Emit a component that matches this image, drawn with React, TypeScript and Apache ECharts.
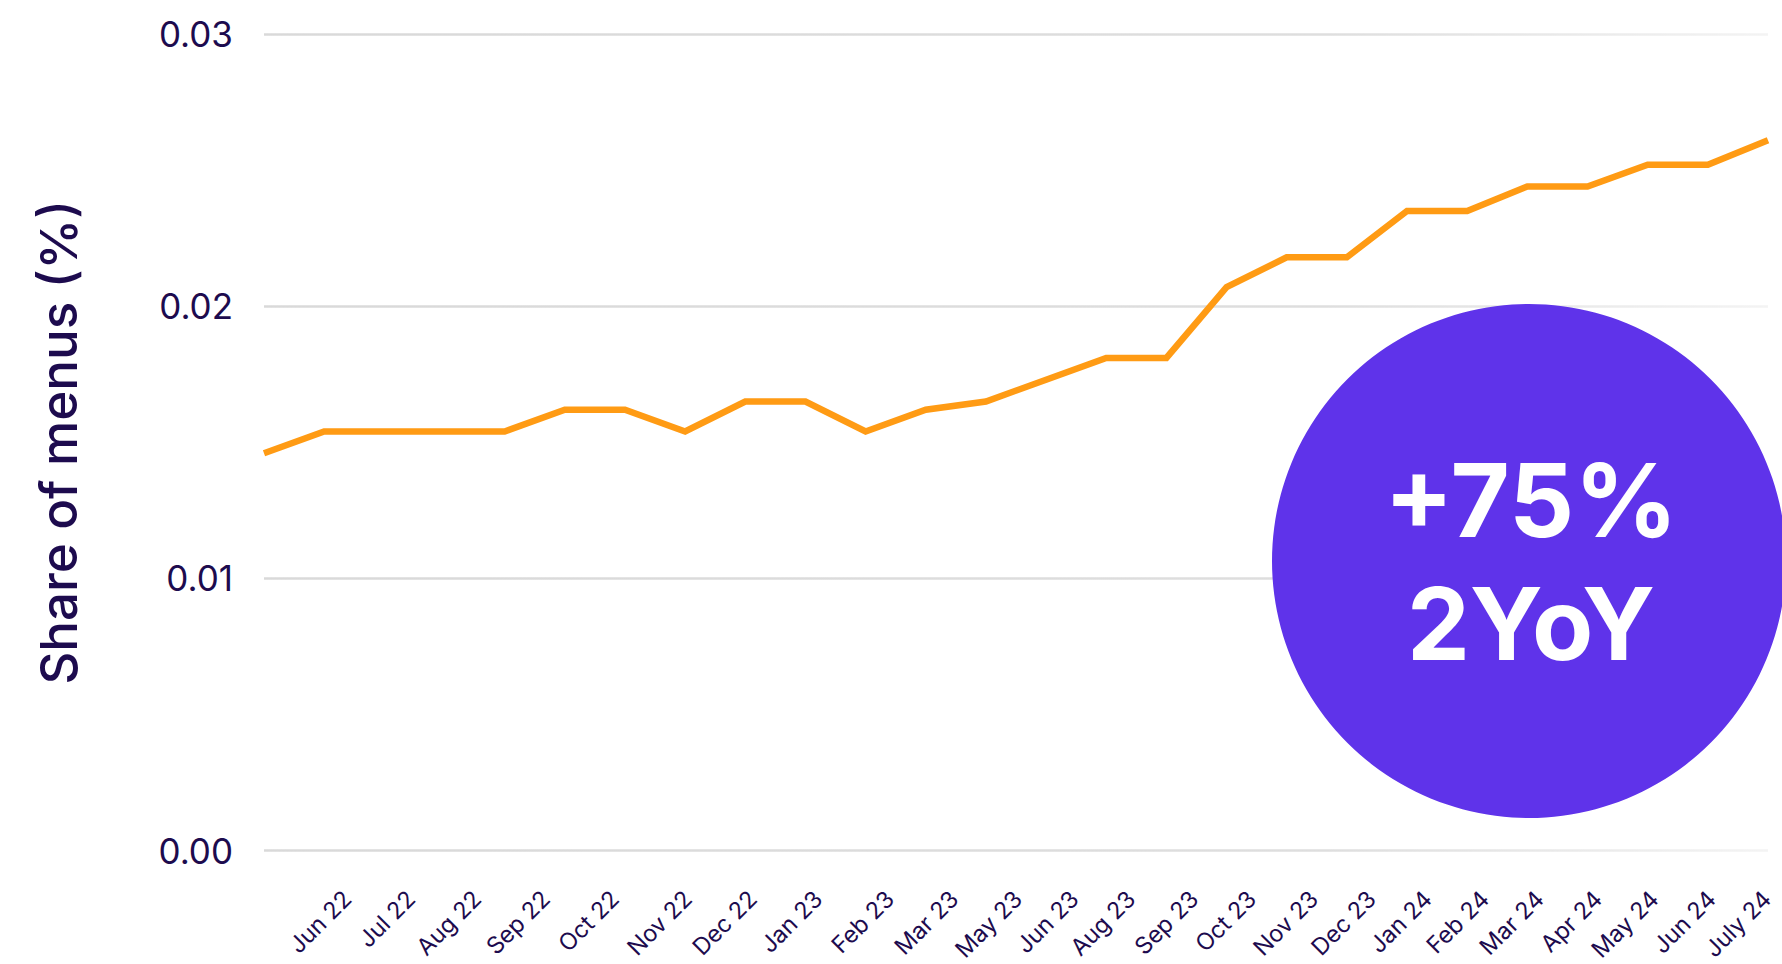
import React, { useEffect, useRef } from "react";
import * as echarts from "echarts";

// Share of menus (%) — monthly points, May 22 .. July 24 (26 points)
const SHARE_VALUES: number[] = [
  0.0146, 0.0154, 0.0154, 0.0154, 0.0154, 0.0162, 0.0162, 0.0154, 0.0165, 0.0165,
  0.0154, 0.0162, 0.0165, 0.0173, 0.0181, 0.0181, 0.0207, 0.0218, 0.0218, 0.0235,
  0.0235, 0.0244, 0.0244, 0.0252, 0.0252, 0.0261,
];

// x-axis tick labels and where they sit along the point index scale
const TICK_LABELS: string[] = [
  "Jun 22", "Jul 22", "Aug 22", "Sep 22", "Oct 22", "Nov 22", "Dec 22", "Jan 23",
  "Feb 23", "Mar 23", "May 23", "Jun 23", "Aug 23", "Sep 23", "Oct 23", "Nov 23",
  "Dec 23", "Jan 24", "Feb 24", "Mar 24", "Apr 24", "May 24", "Jun 24", "July 24",
];
const TICK_POSITIONS: number[] = [
  1.38, 2.44, 3.54, 4.68, 5.83, 7.04, 8.12, 9.21, 10.4, 11.47, 12.53, 13.47,
  14.41, 15.46, 16.42, 17.45, 18.41, 19.34, 20.29, 21.2, 22.17, 23.11, 24.06, 24.98,
];

const Y_TICKS: number[] = [0, 0.01, 0.02, 0.03];

const BADGE_LINES: string[] = ["+75%", "2YoY"];

const NAVY = "#1d0b4e";
const ORANGE = "#ff9b14";
const PURPLE = "#5f33ea";
const FONT = "Inter, 'Noto Sans', sans-serif";

export default function App() {
  const ref = useRef<HTMLDivElement | null>(null);

  useEffect(() => {
    if (!ref.current) return;
    const chart = echarts.init(ref.current, undefined, { renderer: "svg" });

    const lineData = SHARE_VALUES.map((v, i) => [i, v]);

    const labelFor = (val: number) => {
      let best = 0;
      let bestD = Infinity;
      TICK_POSITIONS.forEach((p, i) => {
        const d = Math.abs(p - val);
        if (d < bestD) {
          bestD = d;
          best = i;
        }
      });
      return TICK_LABELS[best];
    };

    chart.setOption({
      animation: false,
      backgroundColor: "#ffffff",
      textStyle: { fontFamily: FONT },
      grid: { left: 264, right: 14, top: 34, bottom: 113, containLabel: false },
      xAxis: {
        type: "value",
        min: 0,
        max: SHARE_VALUES.length - 1,
        axisLine: { show: false },
        axisTick: { show: false },
        splitLine: { show: false },
        axisLabel: {
          customValues: TICK_POSITIONS,
          formatter: (v: number) => labelFor(v),
          rotate: 45,
          margin: 44,
          fontSize: 23.5,
          color: NAVY,
          fontFamily: FONT,
        },
      },
      yAxis: {
        type: "value",
        min: Y_TICKS[0],
        max: Y_TICKS[Y_TICKS.length - 1],
        interval: 0.01,
        name: "Share of menus (%)",
        nameLocation: "middle",
        nameGap: 180,
        nameTextStyle: {
          fontSize: 51,
          fontWeight: 500,
          color: NAVY,
          fontFamily: FONT,
        },
        axisLine: { show: false },
        axisTick: { show: false },
        axisLabel: {
          formatter: (v: number) => v.toFixed(2),
          fontSize: 35,
          margin: 31,
          color: NAVY,
          fontFamily: FONT,
        },
        splitLine: {
          show: true,
          lineStyle: {
            width: 2.5,
            color: new echarts.graphic.LinearGradient(
              264,
              0,
              1782,
              0,
              [
                { offset: 0, color: "#d9d9d9" },
                { offset: 0.7, color: "#dedede" },
                { offset: 1, color: "#f4f4f4" },
              ],
              true
            ),
          },
        },
      },
      series: [
        {
          type: "line",
          data: lineData,
          symbol: "none",
          lineStyle: { color: ORANGE, width: 6.5, join: "miter", cap: "butt" },
          z: 3,
        },
      ],
      graphic: [
        {
          type: "circle",
          z: 100,
          shape: { cx: 1529, cy: 561, r: 257 },
          style: { fill: PURPLE },
        },
        {
          type: "text",
          z: 101,
          x: 1531,
          y: 500,
          style: {
            text: BADGE_LINES[0],
            fill: "#ffffff",
            fontSize: 102,
            fontWeight: 700,
            fontFamily: FONT,
            align: "center",
            verticalAlign: "middle",
          },
        },
        {
          type: "text",
          z: 101,
          x: 1531,
          y: 623,
          style: {
            text: BADGE_LINES[1],
            fill: "#ffffff",
            fontSize: 100,
            fontWeight: 700,
            fontFamily: FONT,
            align: "center",
            verticalAlign: "middle",
          },
        },
      ],
    });

    return () => {
      chart.dispose();
    };
  }, []);

  return (
    <div
      ref={ref}
      style={{ position: "absolute", left: 0, top: 0, width: 1782, height: 964 }}
    />
  );
}
